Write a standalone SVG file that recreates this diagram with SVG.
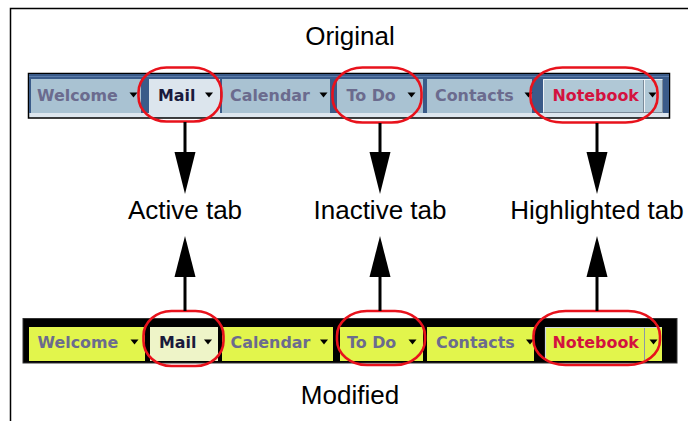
<svg xmlns="http://www.w3.org/2000/svg" width="688" height="421" viewBox="0 0 688 421">
<style>
.lbl{font-family:"Liberation Sans",Arial,sans-serif;font-size:26px;fill:#000;text-anchor:middle}
.tab{font-family:"DejaVu Sans",Verdana,sans-serif;font-size:15.9px;font-weight:bold}
.in{fill:#6b6b8e}
.act{fill:#1a1a3c}
.hl{fill:#d3123f}
.tb{fill:#a9c2d2}
.ty{fill:#e2f54c}
.ring{fill:none;stroke:#e8121c;stroke-width:2.6}
.conn line{stroke:#000;stroke-width:3}
.tri{fill:#000}
</style>
<defs>
<path id="dd" d="M0,0 h8 l-4,5 z"/>
</defs>
<rect x="0" y="0" width="688" height="421" fill="#fff"/>
<path d="M10.5,421 V8.5 H688" fill="none" stroke="#000" stroke-width="1.5"/>

<text class="lbl" x="350" y="45">Original</text>
<text class="lbl" x="350" y="404">Modified</text>

<g id="toolbar-original">
<rect x="28.5" y="73.5" width="641" height="44.5" fill="#dde6ee" stroke="#000" stroke-width="1.5"/>
<rect x="29" y="74" width="640" height="39" fill="#3a5b89"/>
<rect x="29" y="76" width="640" height="1" fill="#5a7bab"/>
<rect class="tb" x="31" y="79" width="110" height="34"/>
<rect x="149" y="79" width="71" height="34" fill="#dce5ed"/>
<rect class="tb" x="222" y="79" width="108" height="34"/>
<rect class="tb" x="337" y="79" width="86" height="34"/>
<rect class="tb" x="427" y="79" width="105" height="34"/>
<rect x="543" y="79" width="120" height="34" fill="#b0c8d6"/>
<path d="M543.5,112.5 V79.5 H662.5" fill="none" stroke="#eef3f7" stroke-width="1"/>
<path d="M543.5,112.5 H662.5 V79.5" fill="none" stroke="#7a8a99" stroke-width="1"/>
<line x1="643.5" y1="80" x2="643.5" y2="112" stroke="#7a8a99" stroke-width="1"/>
<line x1="644.5" y1="80" x2="644.5" y2="112" stroke="#eef3f7" stroke-width="1"/>
<text class="tab in" x="37" y="101">Welcome</text>
<use href="#dd" x="129.5" y="92.5" class="tri"/>
<text class="tab act" x="158" y="101">Mail</text>
<use href="#dd" x="205" y="92.5" class="tri"/>
<text class="tab in" x="230" y="101">Calendar</text>
<use href="#dd" x="319.5" y="92.5" class="tri"/>
<text class="tab in" x="346.5" y="101">To Do</text>
<use href="#dd" x="407.5" y="92.5" class="tri"/>
<text class="tab in" x="435" y="101">Contacts</text>
<use href="#dd" x="524.5" y="92.5" class="tri"/>
<text class="tab hl" x="552.5" y="101">Notebook</text>
<use href="#dd" x="648.5" y="92.5" class="tri"/>
</g>

<g id="toolbar-modified">
<rect x="23" y="318.5" width="654" height="44.5" fill="#000" stroke="#333" stroke-width="1"/>
<rect class="ty" x="29" y="327" width="116" height="34"/>
<rect x="150" y="327" width="68" height="34" fill="#eef4c8"/>
<rect class="ty" x="222" y="327" width="111" height="34"/>
<rect class="ty" x="340" y="327" width="83" height="34"/>
<rect class="ty" x="427" y="327" width="107" height="34"/>
<rect class="ty" x="545" y="327" width="117" height="34"/>
<path d="M545.5,360.5 V327.5 H661.5" fill="none" stroke="#cfd8e0" stroke-width="1.2"/>
<line x1="644.5" y1="328" x2="644.5" y2="360" stroke="#8a9aa8" stroke-width="1"/>
<text class="tab in" x="37.5" y="348">Welcome</text>
<use href="#dd" x="130.5" y="339.5" class="tri"/>
<text class="tab act" x="159" y="348">Mail</text>
<use href="#dd" x="204" y="339.5" class="tri"/>
<text class="tab in" x="230.5" y="348">Calendar</text>
<use href="#dd" x="320" y="339.5" class="tri"/>
<text class="tab in" x="347" y="348">To Do</text>
<use href="#dd" x="408.5" y="339.5" class="tri"/>
<text class="tab in" x="436" y="348">Contacts</text>
<use href="#dd" x="526" y="339.5" class="tri"/>
<text class="tab hl" x="552.5" y="348">Notebook</text>
<use href="#dd" x="649.5" y="339.5" class="tri"/>
</g>

<g id="ring-active-top"><rect class="ring" x="138.5" y="67.5" width="83" height="54" rx="28" ry="25"/></g>
<g id="ring-inactive-top"><rect class="ring" x="332.5" y="67.5" width="89" height="55" rx="30" ry="25"/></g>
<g id="ring-highlight-top"><rect class="ring" x="530.5" y="67.5" width="127" height="55" rx="32" ry="25"/></g>
<g id="ring-active-bottom"><rect class="ring" x="143.5" y="311" width="80" height="55" rx="28" ry="25"/></g>
<g id="ring-inactive-bottom"><rect class="ring" x="337" y="311" width="88" height="54" rx="30" ry="25"/></g>
<g id="ring-highlight-bottom"><rect class="ring" x="533.5" y="311" width="126.5" height="54" rx="32" ry="25"/></g>

<g id="label-active"><text class="lbl" x="185" y="219">Active tab</text></g>
<g id="label-inactive"><text class="lbl" x="380" y="219">Inactive tab</text></g>
<g id="label-highlighted"><text class="lbl" x="597" y="219">Highlighted tab</text></g>

<g id="connectors" class="conn">
<line x1="185" y1="122" x2="185" y2="154"/>
<path class="tri" d="M174.5,152 H195.5 L185,194 Z"/>
<line x1="380" y1="123" x2="380" y2="154"/>
<path class="tri" d="M369.5,152 H390.5 L380,194 Z"/>
<line x1="597" y1="123" x2="597" y2="154"/>
<path class="tri" d="M586.5,152 H607.5 L597,194 Z"/>
<line x1="185" y1="311" x2="185" y2="274"/>
<path class="tri" d="M174.5,277 H195.5 L185,236 Z"/>
<line x1="380" y1="311" x2="380" y2="274"/>
<path class="tri" d="M369.5,277 H390.5 L380,236 Z"/>
<line x1="597" y1="311" x2="597" y2="274"/>
<path class="tri" d="M586.5,277 H607.5 L597,236 Z"/>
</g>
</svg>
